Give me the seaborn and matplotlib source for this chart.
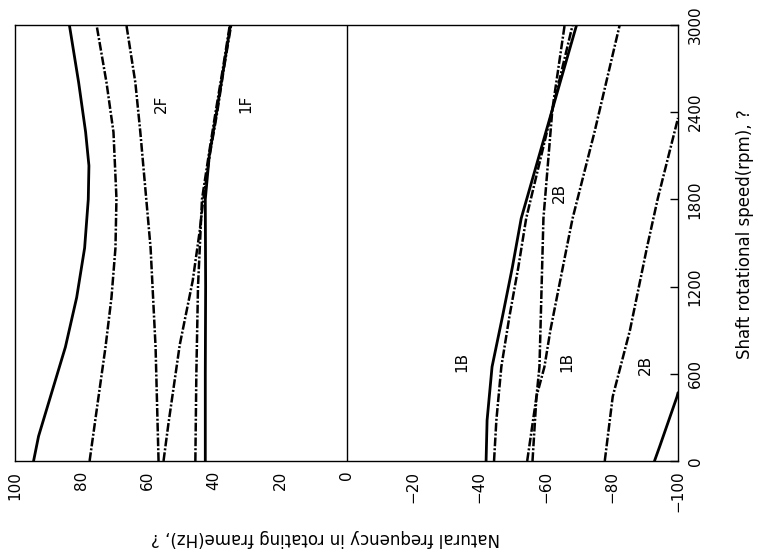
import matplotlib
matplotlib.use("Agg")
import matplotlib.pyplot as plt
import seaborn as sns

# ── data (speed in rpm, frequency in Hz) ─────────────────────────────────────

# positive-frequency branches
speed_a = [0, 170, 443, 784, 1125, 1466, 1800, 2032, 2263, 2604, 3000]
freq_a = [94.4, 92.9, 89.3, 84.8, 81.4, 79.0, 77.9, 77.7, 78.7, 80.8, 83.6]

speed_b = [0, 443, 784, 1125, 1466, 1807, 2263, 2604, 3000]
freq_b = [77.5, 74.8, 72.7, 70.9, 69.7, 69.4, 70.3, 72.4, 75.4]

speed_c = [0, 784, 1466, 2263, 2604, 3000]
freq_c = [56.7, 57.6, 59.1, 62.2, 63.7, 66.4]

speed_d = [0, 260, 800, 1240, 1580, 1800, 2100, 2400, 2700, 3000]
freq_d = [55.2, 53.7, 50.3, 46.4, 44.3, 43.2, 41.3, 39.0, 37.0, 34.8]

speed_e = [0, 600, 1200, 1800, 2100, 2400, 2700, 3000]
freq_e = [42.6, 42.6, 42.5, 42.6, 41.4, 39.2, 37.1, 35.0]

speed_f = [0, 600, 1200, 1800, 2100, 2400, 2700, 3000]
freq_f = [45.6, 45.3, 44.8, 43.6, 41.6, 39.5, 37.3, 35.2]

# negative-frequency branches
speed_g = [0, 280, 648, 989, 1330, 1670, 2420, 3000]
freq_g = [-42.1, -42.4, -43.9, -47.0, -50.0, -52.7, -62.1, -69.4]

speed_h = [0, 280, 648, 989, 1330, 1670, 2420, 3000]
freq_h = [-44.5, -45.2, -46.7, -49.1, -51.8, -54.2, -62.1, -68.2]

speed_i = [0, 443, 648, 1670, 2420, 3000]
freq_i = [-56.1, -57.3, -58.2, -59.4, -62.1, -65.8]

speed_j = [0, 443, 648, 900, 1466, 1670, 2263, 3000]
freq_j = [-54.5, -57.3, -59.7, -61.5, -66.4, -68.2, -74.8, -82.4]

speed_k = [0, 443, 900, 1466, 1807, 2360]
freq_k = [-77.9, -80.3, -85.5, -90.6, -93.9, -100.0]

speed_l = [0, 102, 443, 470]
freq_l = [-92.9, -94.5, -99.7, -100.0]

mode_labels = ["2F", "1F", "1B", "1B", "2B", "2B"]
label_freq = [55.8, 30.5, -34.8, -66.4, -90.0, -64.2]
label_speed = [2455, 2455, 682, 682, 661, 1841]

freq_ticks = [100, 80, 60, 40, 20, 0, -20, -40, -60, -80, -100]
speed_ticks = [0, 600, 1200, 1800, 2400, 3000]

SOLID = "-"
DASHDOT = (0, (3.5, 0.8, 0.8, 0.8))

curves = [
    (speed_a, freq_a, SOLID),
    (speed_b, freq_b, DASHDOT),
    (speed_c, freq_c, DASHDOT),
    (speed_d, freq_d, DASHDOT),
    (speed_e, freq_e, SOLID),
    (speed_f, freq_f, DASHDOT),
    (speed_g, freq_g, SOLID),
    (speed_h, freq_h, DASHDOT),
    (speed_i, freq_i, DASHDOT),
    (speed_j, freq_j, DASHDOT),
    (speed_k, freq_k, DASHDOT),
    (speed_l, freq_l, SOLID),
]

# ── figure (drawn in the rotated frame of the scan) ──────────────────────────

sns.set_style("white", {"text.color": "black", "axes.labelcolor": "black",
                        "xtick.color": "black", "ytick.color": "black",
                        "axes.edgecolor": "black"})
plt.rcParams["font.family"] = ["DejaVu Sans"]

fig = plt.figure(figsize=(7.58, 5.57), dpi=100)
ax = fig.add_axes([0.0198, 0.1724, 0.8747, 0.7827])

for speed, freq, style in curves:
    lw = 2.0 if style == SOLID else 1.8
    sns.lineplot(x=freq, y=speed, ax=ax, sort=False, estimator=None,
                 color="black", linewidth=lw, linestyle=style)

ax.axvline(0, color="black", linewidth=1.0)

for txt, f, s in zip(mode_labels, label_freq, label_speed):
    ax.text(f, s, txt, rotation=90, ha="center", va="center", fontsize=11,
            color="black")

ax.set_xlim(100, -100)
ax.set_ylim(0, 3000)

ax.set_xticks(freq_ticks)
ax.set_xticklabels([f"{v}".replace("-", "\u2212") for v in freq_ticks],
                   rotation=90, fontsize=11)
ax.set_yticks(speed_ticks)
ax.yaxis.tick_right()
ax.set_yticklabels([str(v) for v in speed_ticks], rotation=90,
                   fontsize=11, va="center")
ax.tick_params(axis="both", direction="in", length=6, width=1, pad=7,
               colors="black")

for sp in ax.spines.values():
    sp.set_color("black")
    sp.set_linewidth(1.0)

ax.set_xlabel("Natural frequency in rotating frame(Hz), ?", fontsize=12,
              rotation=180, va="center", ha="center", color="black")
ax.xaxis.set_label_coords(0.468, -0.177)

ax.yaxis.set_label_position("right")
ax.set_ylabel("Shaft rotational speed(rpm), ?", fontsize=12,
              rotation=90, va="center", ha="center", color="black")
ax.yaxis.set_label_coords(1.101, 0.52)

fig.savefig("out.png", dpi=100)
